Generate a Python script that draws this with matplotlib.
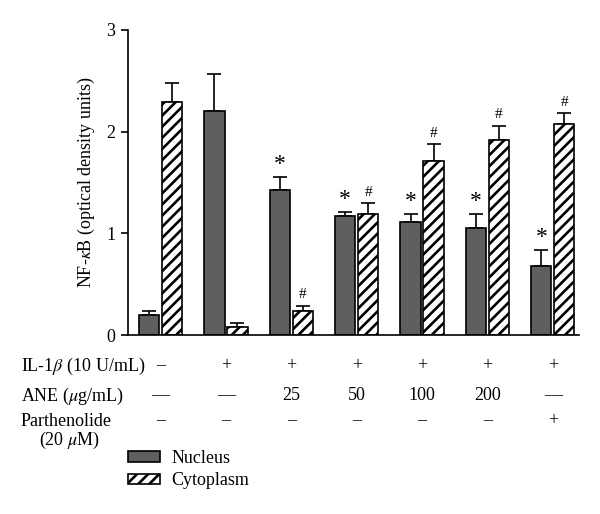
import numpy as np
import matplotlib
matplotlib.use("Agg")
import matplotlib.pyplot as plt
from matplotlib.patches import Patch
from matplotlib.transforms import blended_transform_factory

plt.rcParams['font.family'] = ['Liberation Serif', 'DejaVu Serif']
plt.rcParams['mathtext.fontset'] = 'stix'
plt.rcParams['hatch.linewidth'] = 1.9

# data
nucleus = [0.20, 2.20, 1.43, 1.17, 1.11, 1.05, 0.675]
nucleus_err = [0.04, 0.37, 0.12, 0.04, 0.08, 0.14, 0.165]
cytoplasm = [2.29, 0.076, 0.24, 1.19, 1.71, 1.92, 2.08]
cytoplasm_err = [0.19, 0.04, 0.05, 0.11, 0.17, 0.14, 0.10]
nucleus_mark = ['', '', '*', '*', '*', '*', '*']
cytoplasm_mark = ['', '', '#', '#', '#', '#', '#']

il1b_row = ['–', '+', '+', '+', '+', '+', '+']
ane_row = ['—', '—', '25', '50', '100', '200', '—']
parth_row = ['–', '–', '–', '–', '–', '–', '+']

fig = plt.figure(figsize=(6, 5.14), dpi=100)
ax = fig.add_axes([128 / 600, 1 - 335 / 514, (579 - 128) / 600, (335 - 30) / 514])

x = np.arange(len(nucleus))
w = 0.31
off = 0.176
ax.bar(x - off, nucleus, w, color='#5f5f5f', edgecolor='black', linewidth=1.2, zorder=2)
ax.bar(x + off, cytoplasm, w, color='white', edgecolor='black', linewidth=1.2,
       hatch='///', zorder=2)
ax.errorbar(x - off, nucleus, yerr=[np.zeros(len(x)), nucleus_err], fmt='none',
            ecolor='black', elinewidth=1.2, capsize=5, capthick=1.2, zorder=1)
ax.errorbar(x + off, cytoplasm, yerr=[np.zeros(len(x)), cytoplasm_err], fmt='none',
            ecolor='black', elinewidth=1.2, capsize=5, capthick=1.2, zorder=1)

for i in range(len(x)):
    if nucleus_mark[i]:
        ax.text(x[i] - off, nucleus[i] + nucleus_err[i] + 0.02, nucleus_mark[i],
                ha='center', va='bottom', fontsize=17)
    if cytoplasm_mark[i]:
        ax.text(x[i] + off, cytoplasm[i] + cytoplasm_err[i] + 0.04, cytoplasm_mark[i],
                ha='center', va='bottom', fontsize=11)

ax.set_xlim(-0.497, 6.40)
ax.set_ylim(0, 3)
ax.set_yticks([0, 1, 2, 3])
ax.set_xticks([])
ax.tick_params(axis='y', direction='out', length=5, width=1.2, labelsize=13, pad=4)
for s in ['top', 'right']:
    ax.spines[s].set_visible(False)
for s in ['left', 'bottom']:
    ax.spines[s].set_linewidth(1.2)
ax.set_ylabel('NF-$\\kappa$B (optical density units)', fontsize=13, labelpad=7)

# treatment table under the axis, columns lined up with the bar groups
tr = blended_transform_factory(ax.transData, fig.transFigure)
rows_y = [366, 396, 421]
fs = 13
fig.text(21 / 600, 1 - rows_y[0] / 514, 'IL-1$\\beta$ (10 U/mL)', fontsize=fs, va='center')
fig.text(21 / 600, 1 - rows_y[1] / 514, 'ANE ($\\mu$g/mL)', fontsize=fs, va='center')
fig.text(21 / 600, 1 - rows_y[2] / 514, 'Parthenolide', fontsize=fs, va='center')
fig.text(70 / 600, 1 - 440 / 514, '(20 $\\mu$M)', fontsize=fs, va='center', ha='center')
for row, yy in zip([il1b_row, ane_row, parth_row], rows_y):
    for xi, t in zip(x, row):
        fig.text(xi, 1 - yy / 514, t, fontsize=fs, ha='center', va='center', transform=tr)

handles = [Patch(facecolor='#5f5f5f', edgecolor='black', linewidth=1.2),
           Patch(facecolor='white', edgecolor='black', linewidth=1.2, hatch='///')]
fig.legend(handles, ['Nucleus', 'Cytoplasm'], loc='upper left',
           bbox_to_anchor=(128 / 600, 1 - 450 / 514), frameon=False, fontsize=fs,
           handlelength=1.75, handleheight=0.55, handletextpad=0.65, labelspacing=0.3,
           borderpad=0, borderaxespad=0)

fig.savefig('out.png', dpi=100)
